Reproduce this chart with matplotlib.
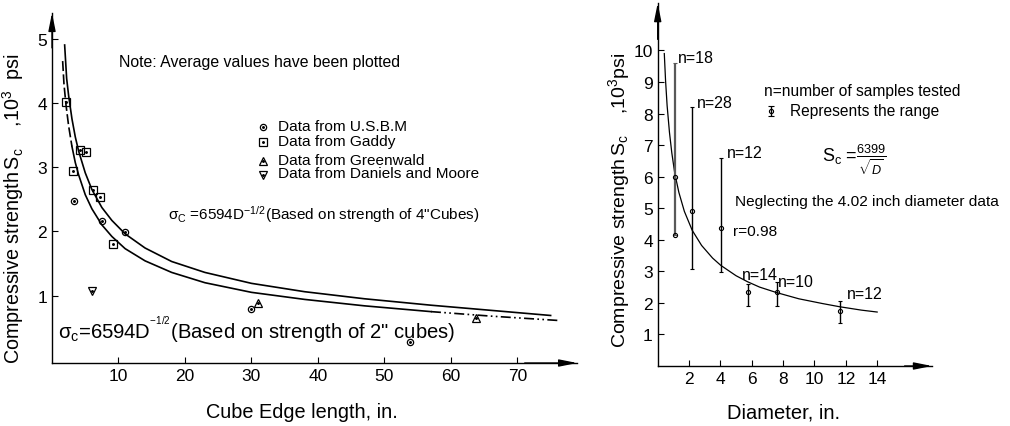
import numpy as np
import matplotlib
matplotlib.use("Agg")
import matplotlib.pyplot as plt

plt.rcParams['font.family'] = ['Liberation Sans', 'DejaVu Sans']
plt.rcParams['mathtext.fontset'] = 'custom'
plt.rcParams['mathtext.rm'] = 'Liberation Sans'
plt.rcParams['mathtext.it'] = 'Liberation Sans:italic'
plt.rcParams['mathtext.bf'] = 'Liberation Sans:bold'

# ---- left chart: cube edge length vs strength (10^3 psi) ----
usbm_x = [3.3, 7.5, 11.0, 29.9, 53.9]
usbm_y = [2.47, 2.16, 1.99, 0.79, 0.27]
gaddy_x = [2.13, 4.14, 5.08, 3.13, 6.14, 7.19, 9.1]
gaddy_y = [4.02, 3.27, 3.23, 2.94, 2.65, 2.54, 1.81]
green_x = [31.0, 63.8]
green_y = [0.89, 0.65]
daniels_x = [5.94]
daniels_y = [1.07]

# curve: 4" cubes (upper) and 2" cubes (lower)
upper_d = [1.9, 2.2, 2.5, 3.0, 3.5, 4.0, 5.0, 6.0, 7.5, 9, 11, 14, 18, 23, 30, 38, 47, 57, 66, 75]
upper_s = [4.9, 4.38, 4.11, 3.75, 3.47, 3.25, 2.91, 2.65, 2.37, 2.17, 1.96, 1.74, 1.53, 1.36, 1.19,
           1.06, 0.95, 0.85, 0.77, 0.69]
lower_d = [1.6, 1.8, 2.1, 2.5, 3.0, 3.5, 4.0, 5.0, 6.0, 7.5, 9, 11, 14, 18, 23, 30, 38, 47, 57, 66, 76.5]
lower_s = [4.65, 4.29, 3.97, 3.64, 3.32, 3.07, 2.88, 2.57, 2.35, 2.10, 1.92, 1.73, 1.54, 1.36, 1.20,
           1.05, 0.94, 0.84, 0.75, 0.68, 0.61]

# ---- right chart: diameter vs strength ----
diam = [1.08, 2.2, 4.02, 5.75, 7.58, 11.6]
mean_s = [5.98, 4.9, 4.37, 2.33, 2.36, 1.73]
low_s = [4.16, 3.07, 2.99, 1.91, 1.91, 1.36]
high_s = [9.61, 8.22, 6.58, 2.59, 2.65, 2.07]
n_samples = [18, 28, 12, 14, 10, 12]

fit_d = [0.42, 0.5, 0.6, 0.75, 0.9, 1.09, 1.35, 1.7, 2.2, 2.8, 3.5, 4.02, 5, 5.73, 6.5, 7.56, 9, 10.5,
         11.58, 13, 14]
fit_s = [9.9, 9.05, 8.25, 7.4, 6.75, 6.1, 5.5, 4.9, 4.3, 3.82, 3.42, 3.19, 2.86, 2.67, 2.5, 2.33, 2.13,
         1.98, 1.88, 1.77, 1.71]

fig = plt.figure(figsize=(10.1, 4.27), dpi=100)
ax1 = fig.add_axes([0.0515, 0.1475, 0.520, 0.82])
ax2 = fig.add_axes([0.6512, 0.1405, 0.2716, 0.85])


def axis_style(ax):
    for s in ['top', 'right']:
        ax.spines[s].set_visible(False)
    for s in ['left', 'bottom']:
        ax.spines[s].set_linewidth(1.0)
    ax.tick_params(direction='in', length=4, width=0.8, labelsize=12.5)
    arr = dict(arrowstyle='-|>,head_length=0.9,head_width=0.18', lw=1.0, color='k',
               shrinkA=0, shrinkB=0, mutation_scale=12)
    ax.annotate('', xy=(1, 0), xytext=(0.9, 0), xycoords='axes fraction', arrowprops=arr)
    ax.annotate('', xy=(0, 1), xytext=(0, 0.9), xycoords='axes fraction', arrowprops=arr)


def dotted_marker(ax, x, y, m, ms, **kw):
    ax.plot(x, y, m, ms=ms, mfc='none', mec='k', mew=0.9, ls='none', **kw)
    ax.plot(x, y, '.', ms=2.2, color='k', ls='none', **kw)


# left chart
axis_style(ax1)
ax1.set_xlim(0, 79)
ax1.set_ylim(-0.05, 5.4)
ax1.set_xticks([10, 20, 30, 40, 50, 60, 70])
ax1.set_yticks([1, 2, 3, 4, 5])

ax1.plot(upper_d, upper_s, color='k', lw=1.2)
ld = np.array(lower_d)
ls_ = np.array(lower_s)
m1 = ld <= 3.0
m2 = (ld >= 3.0) & (ld <= 57)
m3 = ld >= 57
ax1.plot(ld[m1], ls_[m1], color='k', lw=1.2, ls=(0, (6, 2)))
ax1.plot(ld[m2], ls_[m2], color='k', lw=1.2)
ax1.plot(ld[m3], ls_[m3], color='k', lw=1.2, ls=(0, (6, 2, 1, 2, 1, 2)))

dotted_marker(ax1, usbm_x, usbm_y, 'o', 4.5)
dotted_marker(ax1, gaddy_x, gaddy_y, 's', 5.5)
dotted_marker(ax1, green_x, green_y, '^', 6)
dotted_marker(ax1, daniels_x, daniels_y, 'v', 6)

ax1.text(10.1, 4.65, 'Note: Average values have been plotted', fontsize=11.4, va='center')
leg_items = [('o', 4.5, 'Data from U.S.B.M'), ('s', 5.5, 'Data from Gaddy'),
             ('^', 6, 'Data from Greenwald'), ('v', 6, 'Data from Daniels and Moore')]
leg_y = [3.62, 3.39, 3.09, 2.88]
for (m, ms, lab), yy in zip(leg_items, leg_y):
    dotted_marker(ax1, [31.8], [yy], m, ms)
    ax1.text(34.0, yy + 0.02, lab, fontsize=11.1, va='center')

ax1.text(17.4, 2.27, 'σ$_{\\rm C}$ =6594D$^{-1/2}$(Based on strength of 4"Cubes)',
         fontsize=11, va='center')
ax1.text(0.9, 0.48, 'σ$_{\\rm c}$=6594D$^{^{-1/2}}$(Based on strength of 2" cubes)',
         fontsize=14.6, va='center')

ax1.set_xlabel('Cube Edge length, in.', fontsize=14.3)
ax1.set_ylabel(r'Compressive strength$\,\mathregular{S_c}$    ,10$^3$  psi', fontsize=14.2)
ax1.xaxis.set_label_coords(0.476, -0.11, transform=ax1.transAxes)
ax1.yaxis.set_label_coords(-0.05, 0.443, transform=ax1.transAxes)

# right chart
axis_style(ax2)
ax2.set_xlim(0, 17.5)
ax2.set_ylim(0, 11.5)
ax2.set_xticks([2, 4, 6, 8, 10, 12, 14])
ax2.set_yticks(range(1, 11))

ax2.plot(fit_d, fit_s, color='k', lw=0.9)
for i, (d, mu, lo, hi) in enumerate(zip(diam, mean_s, low_s, high_s)):
    col = '0.35' if i == 0 else 'k'
    lw = 1.6 if i == 0 else 1.0
    ax2.errorbar([d], [mu], yerr=[[mu - lo], [hi - mu]], fmt='o', ms=3, mfc='none', mec='k',
                 mew=0.8, ecolor=col, elinewidth=lw, capsize=1.5, capthick=1.0)
ax2.plot([diam[0]], [low_s[0]], 'o', ms=3, mfc='none', mec='k', mew=0.8)

n_pos = [(1.3, 9.78), (2.5, 8.36), (4.4, 6.78), (5.4, 2.9), (7.7, 2.68), (12.1, 2.3)]
for (tx, ty), n in zip(n_pos, n_samples):
    ax2.text(tx, ty, f'n={n}', fontsize=11.5, va='center')

ax2.text(6.78, 8.74, 'n=number of samples tested', fontsize=11.2, va='center')
ax2.errorbar([7.24], [8.08], yerr=0.17, fmt='o', ms=3, mfc='none', mec='k', mew=0.8,
             ecolor='k', elinewidth=1.0, capsize=2, capthick=1.0)
ax2.text(8.45, 8.08, 'Represents the range', fontsize=11.2, va='center')
ax2.text(10.5, 6.55, r'S$_{\rm c}$ =$\frac{6399}{\sqrt{D}}$', fontsize=13, va='center')
ax2.text(4.94, 5.24, 'Neglecting the 4.02 inch diameter data', fontsize=11.1, va='center')
ax2.text(4.81, 4.29, 'r=0.98', fontsize=11.1, va='center')

ax2.set_xlabel('Diameter, in.', fontsize=14.5)
ax2.set_ylabel(r'Compressive strength$\,\mathregular{S_c}$    ,10$^3$psi', fontsize=14)
ax2.xaxis.set_label_coords(0.457, -0.1, transform=ax2.transAxes)
ax2.yaxis.set_label_coords(-0.094, 0.46, transform=ax2.transAxes)

fig.savefig('out.png', dpi=100)
